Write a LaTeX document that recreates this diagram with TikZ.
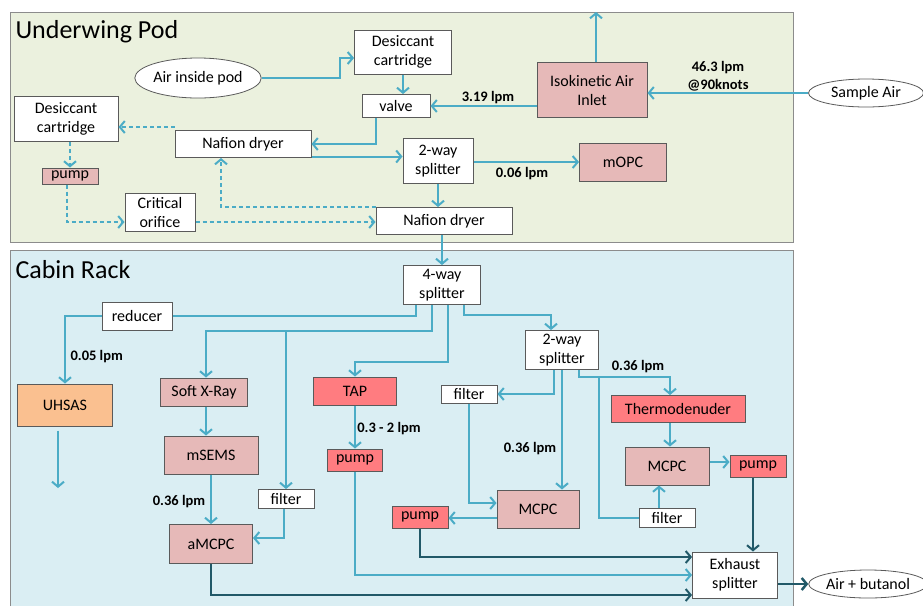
\documentclass[tikz,border=0pt]{standalone}
\usepackage{fontspec}
\setmainfont{Carlito}
\usepackage{xcolor}
\usepackage{tikz}
\usetikzlibrary{arrows.meta,positioning,shapes.geometric}
\definecolor{podbg}{HTML}{EBF1DE}
\definecolor{cabinbg}{HTML}{DAEEF3}
\definecolor{panelline}{HTML}{8C8C8C}
\definecolor{boxline}{HTML}{5A5A5A}
\definecolor{pinkfill}{HTML}{E6B9B8}
\definecolor{redfill}{HTML}{FF7C80}
\definecolor{orangefill}{HTML}{FAC090}
\definecolor{flowblue}{HTML}{4BACC6}
\definecolor{flowdark}{HTML}{215968}

\begin{document}
\begin{tikzpicture}[x=1pt,y=-1pt,
  box/.style={draw=boxline,fill=white,line width=1pt,inner sep=1pt,align=center,
              font=\fontsize{16}{19}\selectfont},
  sz/.style 2 args={minimum width=#1pt,minimum height=#2pt},
  pinkbox/.style={box,fill=pinkfill},
  redbox/.style={box,fill=redfill},
  oval/.style={draw=boxline,fill=white,ellipse,line width=0.8pt,inner sep=0pt,
               font=\fontsize{16}{19}\selectfont},
  line/.style={draw=flowblue,line width=2pt},
  flow/.style={line,-{Straight Barb[length=5pt,width=12pt]}},
  dflow/.style={flow,draw=flowdark},
  dashflow/.style={flow,dash pattern=on 4pt off 3pt},
  rate/.style={font=\fontsize{14.5}{18}\selectfont\bfseries,align=center},
  title/.style={anchor=west,font=\fontsize{26}{30}\selectfont}
]
\useasboundingbox (0,0) rectangle (923,606);
% panels
\draw[panelline,line width=1pt,fill=podbg] (10,12) rectangle (793,242);
\fill[cabinbg] (10,250) rectangle (793,606);
\draw[panelline,line width=1pt] (10,606) |- (793,250) -- (793,606);
\node[title] (podt) at (12,32) {Underwing Pod};
\node[title] (cabt) at (12,270) {Cabin Rack};

% underwing pod
\node[oval,sz={117}{40}] (airpod) at (198,78) {Air inside pod};
\node[box,sz={97}{44}] (des1) at (403,52) {Desiccant\\cartridge};
\node[box,sz={68}{23}] (valve) at (396,106) {valve};
\node[box,sz={104}{45}] (des2) at (66,119) {Desiccant\\cartridge};
\node[box,sz={136}{27}] (naf1) at (243,144) {Nafion dryer};
\node[box,sz={70}{45}] (split1) at (438,161) {2-way\\splitter};
\node[pinkbox,sz={56}{16}] (pump0) at (70,176) {pump};
\node[box,sz={70}{38}] (orifice) at (160,212) {Critical\\orifice};
\node[box,sz={136}{27}] (naf2) at (444,221) {Nafion dryer};
\node[pinkbox,sz={110}{55}] (iso) at (592,90) {Isokinetic Air\\Inlet};
\node[pinkbox,sz={87}{38}] (mopc) at (623,162) {mOPC};
\node[oval,sz={115}{28}] (sample) at (866,93) {Sample Air};
\coordinate (isoout) at (596,12);

\node[rate] (r46) at (718,76) {46.3 lpm\\@90knots};
\node[rate] (r319) at (488,98) {3.19 lpm};
\node[rate] (r006) at (522,174) {0.06 lpm};

\draw[flow] (sample.west) -- (sample.west -| iso.east);
\draw[flow] (iso.north -| isoout) -- (isoout);
\draw[flow] (valve.east -| iso.west) -- (valve.east);
\draw[flow] (airpod.east) -| (340,58) -- (des1.west |- 340,58);
\draw[flow] (des1.south) -- (des1.south |- valve.north);
\draw[flow] ([xshift=-20pt]valve.south) |- (naf1.east);
\draw[flow] ([yshift=1.5pt]naf1.south east) -- ([yshift=1.5pt]naf1.south east -| split1.west);
\draw[flow] (split1.east |- mopc.west) -- (mopc.west);
\draw[flow] (split1.south) -- (split1.south |- naf2.north);
\draw[dashflow] (naf2.north west) -| ([xshift=-22pt]naf1.south);
\draw[dashflow] ([yshift=3pt]naf1.north west) -- ([yshift=3pt]naf1.north west -| des2.east);
\draw[dashflow] (des2.south -| pump0.north) -- (pump0.north);
\draw[dashflow] ([xshift=-3pt]pump0.south) |- ([yshift=-10pt]orifice.west);
\draw[dashflow] ([yshift=-10pt]orifice.east) -- ([yshift=-10pt]orifice.east -| naf2.west);

% cabin rack
\node[box,sz={77}{39}] (quad) at (442,285) {4-way\\splitter};
\node[box,sz={70}{28}] (reducer) at (137,316) {reducer};
\node[box,fill=orangefill,sz={95}{42}] (uhsas) at (65,405) {UHSAS};
\node[pinkbox,sz={87}{28}] (sxr) at (204,392) {Soft X-Ray};
\node[pinkbox,sz={94}{38}] (msems) at (211,455) {mSEMS};
\node[box,sz={56}{19}] (filter1) at (286,499) {filter};
\node[pinkbox,sz={83}{39}] (amcpc) at (211,544) {aMCPC};
\node[redbox,sz={83}{28}] (tap) at (355,391) {TAP};
\node[redbox,sz={55}{22}] (pump1) at (355,460) {pump};
\node[redbox,sz={56}{22}] (pump2) at (420,517) {pump};
\node[box,sz={73}{39}] (split2) at (562,350) {2-way\\splitter};
\node[box,sz={56}{18}] (filter2) at (469,394) {filter};
\node[pinkbox,sz={82}{38}] (mcpc1) at (538,509) {MCPC};
\node[redbox,sz={134}{27}] (thermo) at (678,409) {Thermodenuder};
\node[pinkbox,sz={84}{38}] (mcpc2) at (667,466) {MCPC};
\node[redbox,sz={56}{22}] (pump3) at (758,466) {pump};
\node[box,sz={56}{19}] (filter3) at (667,518) {filter};
\node[box,sz={85}{46}] (exh) at (735,575) {Exhaust\\splitter};
\node[oval,sz={108}{28}] (butanol) at (868,584) {Air + butanol};
\coordinate (uhsasout) at (58,488);

\node[rate,anchor=west] (r005) at (67,357) {0.05 lpm};
\node[rate] (r036a) at (179,502) {0.36 lpm};
\node[rate] (r03) at (389,429) {0.3 - 2 lpm};
\node[rate] (r036b) at (530,449) {0.36 lpm};
\node[rate] (r036c) at (638,367) {0.36 lpm};

\draw[flow] (naf2.south -| quad.north) -- (quad.north);
\draw[line] ([xshift=-26pt]quad.south) |- (reducer.east);
\draw[flow] (reducer.west) -| (uhsas.north);
\draw[flow] ([yshift=-4pt]uhsas.south -| uhsasout) -- (uhsasout);
\draw[flow] ([xshift=-10pt]quad.south) -- ++(0,26) -| ([xshift=2pt]sxr.north);
\draw[flow] (filter1.north |- 0,331) -- (filter1.north);
\draw[flow] ([xshift=6pt]quad.south) -- ++(0,57) -| (tap.north);
\draw[flow] ([xshift=22pt]quad.south) -- ++(0,10) -| ([xshift=-11pt]split2.north);
\draw[flow] ([xshift=2pt]sxr.south) -- ([xshift=2pt]sxr.south |- msems.north);
\draw[flow] (msems.south) -- (amcpc.north);
\draw[flow] ([xshift=-2pt]filter1.south) |- ([yshift=6pt]amcpc.east);
\draw[flow] (tap.south) -- (pump1.north);
\draw[flow] (pump1.south) |- (exh.west);
\draw[dflow] (amcpc.south) |- ([yshift=-20pt]exh.west);
\draw[dflow] (pump2.south) |- ([yshift=18pt]exh.west);
\draw[flow] ([yshift=-9pt]mcpc1.west) -- ([yshift=-9pt]mcpc1.west -| pump2.east);
\draw[flow] ([xshift=-8pt]split2.south) |- (filter2.east);
\draw[flow] (filter2.south) |- ([yshift=6pt]mcpc1.west);
\draw[flow] (split2.south) -- (split2.south |- mcpc1.north);
\draw[flow] ([xshift=17pt]split2.south) -- ++(0,7) -| ([xshift=-8pt]thermo.north);
\draw[line] ([xshift=37pt,yshift=-7pt]split2.south) |- (filter3.west);
\draw[flow] ([xshift=-8pt]filter3.north) -- ([xshift=-8pt]filter3.north |- mcpc2.south);
\draw[flow] ([xshift=-8pt]thermo.south) -- ([xshift=-8pt]thermo.south |- mcpc2.north);
\draw[flow] ([yshift=4pt]mcpc2.east) -- ([yshift=4pt]mcpc2.east -| pump3.west);
\draw[dflow] ([xshift=-5pt]pump3.south) -- ([xshift=-5pt]pump3.south |- exh.north);
\draw[dflow,line width=2.5pt] (exh.east |- butanol.west) -- (butanol.west);
\end{tikzpicture}
\end{document}
